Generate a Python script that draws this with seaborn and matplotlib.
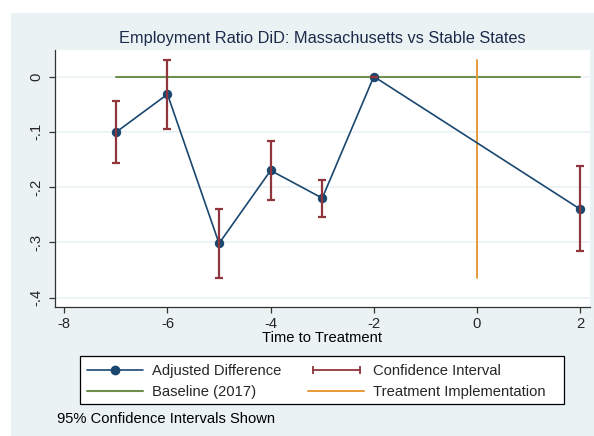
import matplotlib
matplotlib.use("Agg")
import matplotlib.pyplot as plt
from matplotlib.lines import Line2D
from matplotlib.patches import Rectangle
from matplotlib.legend_handler import HandlerLine2D
import seaborn as sns
import pandas as pd

# Event-study estimates: employment ratio difference, Massachusetts vs stable states
periods = [-7, -6, -5, -4, -3, -2, 2]
estimates = [-0.101, -0.032, -0.302, -0.170, -0.220, 0.0, -0.240]
ci_low = [-0.156, -0.095, -0.364, -0.223, -0.255, 0.0, -0.316]
ci_high = [-0.045, 0.030, -0.239, -0.117, -0.187, 0.0, -0.161]

x_ticks = [-8, -6, -4, -2, 0, 2]
y_ticks = [0, -0.1, -0.2, -0.3, -0.4]
y_tick_labels = ["0", "-.1", "-.2", "-.3", "-.4"]
treatment_period = 0
baseline_value = 0

title = "Employment Ratio DiD: Massachusetts vs Stable States"
x_label = "Time to Treatment"
note = "95% Confidence Intervals Shown"
legend_labels = ["Adjusted Difference", "Confidence Interval",
                 "Baseline (2017)", "Treatment Implementation"]

df = pd.DataFrame({"period": periods, "estimate": estimates,
                   "lo": ci_low, "hi": ci_high})

NAVY = "#1a476f"
MAROON = "#90353b"
GREEN = "#6f8f4f"
ORANGE = "#e69a3a"
BG = "#eaf2f3"
TEXT = "#1c2a4a"

sns.set_style("white")
plt.rcParams["font.family"] = ["Liberation Sans", "DejaVu Sans"]
FS = 10.6
W, H = 594, 436


def fx(px):
    return px / W


def fy(py):
    return 1 - py / H


fig = plt.figure(figsize=(W / 100, H / 100), dpi=100, facecolor="white")
fig.patches.append(Rectangle((fx(11), 0), 1, fy(13), transform=fig.transFigure,
                             facecolor=BG, edgecolor="none", zorder=-10))

ax = fig.add_axes([fx(55), fy(307), (590 - 55) / W, (307 - 50) / H])
ax.set_facecolor("white")

# Horizontal grid at the y ticks
for yv in y_ticks:
    ax.axhline(yv, color=BG, lw=1.2, zorder=0)

# Baseline reference line
ax.plot([min(periods), max(periods)], [baseline_value, baseline_value],
        color=GREEN, lw=1.5, zorder=1)

# Treatment implementation marker spanning the CI range
ax.plot([treatment_period, treatment_period], [min(ci_low), max(ci_high)],
        color=ORANGE, lw=1.4, zorder=2)

# Point estimates connected
sns.lineplot(data=df, x="period", y="estimate", ax=ax, color=NAVY, lw=1.2,
             marker="o", markersize=6, markeredgecolor=NAVY, zorder=3,
             legend=False)

# Confidence intervals
ax.errorbar(df["period"], df["estimate"],
            yerr=[df["estimate"] - df["lo"], df["hi"] - df["estimate"]],
            fmt="none", ecolor=MAROON, elinewidth=1.6, capsize=3, capthick=1.6,
            zorder=4)

ax.set_xlim(-8.18, 2.19)
ax.set_ylim(-0.417, 0.048)
ax.set_xticks(x_ticks)
ax.set_xticklabels([str(t) for t in x_ticks], fontsize=FS)
ax.set_yticks(y_ticks)
ax.set_yticklabels(y_tick_labels, fontsize=FS, rotation=90, va="center")
ax.tick_params(axis="both", which="major", length=4.5, width=0.9, color="#333333",
               direction="out", pad=3, left=True, bottom=True)
ax.tick_params(axis="y", pad=4)
for s in ["top", "right"]:
    ax.spines[s].set_visible(False)
for s in ["left", "bottom"]:
    ax.spines[s].set_color("#333333")
    ax.spines[s].set_linewidth(0.9)
ax.set_xlabel("")
ax.set_ylabel("")

fig.text(fx(322), fy(39), title, ha="center", va="center",
         fontsize=11.8, color=TEXT)
fig.text(fx(322), fy(338), x_label, ha="center", va="center",
         fontsize=FS, color="black")
fig.text(fx(57), fy(419), note, ha="left", va="center",
         fontsize=FS, color="black")

# Legend frame
fig.patches.append(Rectangle((fx(80), fy(404)), (564 - 80) / W, (404 - 356) / H,
                             transform=fig.transFigure, facecolor="white",
                             edgecolor="black", lw=0.9, zorder=5))

h_est = Line2D([], [], color=NAVY, lw=1.2, marker="o", markersize=6)
h_ci = Line2D([], [], color=MAROON, lw=1.3, marker="|", markersize=6,
              markeredgewidth=1.3)
h_base = Line2D([], [], color=GREEN, lw=1.5)
h_tr = Line2D([], [], color=ORANGE, lw=1.4)
handles = [h_est, h_base, h_ci, h_tr]
labels = [legend_labels[0], legend_labels[2], legend_labels[1], legend_labels[3]]
fpx = FS * 100 / 72
leg = fig.legend(handles, labels, ncol=2, loc="upper left",
                 bbox_to_anchor=(fx(87), fy(364)),
                 fontsize=FS, frameon=False, handlelength=56 / fpx,
                 handletextpad=9 / fpx, labelspacing=0.5, borderpad=0,
                 borderaxespad=0, columnspacing=27 / fpx,
                 handler_map={h_ci: HandlerLine2D(numpoints=2)})
leg.set_zorder(6)

fig.savefig("out.png", dpi=100, facecolor="white")
